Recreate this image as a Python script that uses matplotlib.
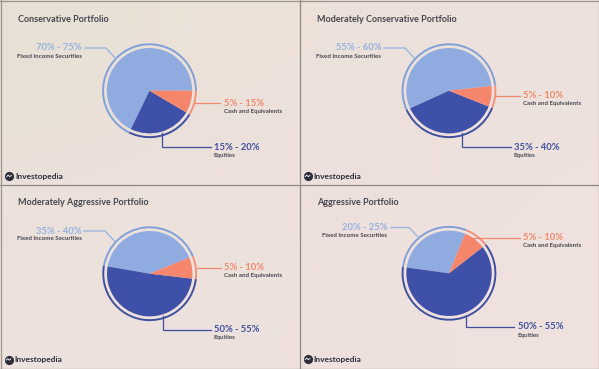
import numpy as np
import matplotlib
matplotlib.use("Agg")
import matplotlib.pyplot as plt

plt.rcParams["font.family"] = ["Lato", "DejaVu Sans"]

W, H = 599, 369

# 数据
titles = ["Conservative Portfolio", "Moderately Conservative Portfolio",
          "Moderately Aggressive Portfolio", "Aggressive Portfolio"]
slice_names = ["Fixed Income Securities", "Equities", "Cash and Equivalents"]
fixed_share = [67.8, 55.0, 41.1, 29.0]
equity_share = [23.7, 37.2, 50.9, 62.7]
cash_share = [8.5, 7.8, 8.0, 8.3]
start_angles = [0, 6.4, 22.2, 67.8]
fixed_labels = ["70% - 75%", "55% - 60%", "35% - 40%", "20% - 25%"]
equity_labels = ["15% - 20%", "35% - 40%", "50% - 55%", "50% - 55%"]
cash_labels = ["5% - 15%", "5% - 10%", "5% - 10%", "5% - 10%"]

colors = ["#8fabe0", "#3f50a8", "#f5866c"]
ring_colors = ["#7f9fd8", "#3f4f9f", "#f3907a"]
text_colors = ["#94b2e2", "#3f4e9e", "#f0886c"]
dark = "#45474f"

# 每个面板的位置（像素）
origins = [(0, 0), (300, 0), (0, 185), (300, 185)]
centers = [(149.5, 90.7), (449, 90.7), (149.7, 273.7), (449, 273.3)]
title_pos = [(18, 20), (17, 20), (18, 17.5), (17, 17.5)]
logo_pos = [(9, 176), (7.5, 176), (8.5, 174.5), (7.5, 174)]
fixed_text = [(82, 48, 56), (81, 48, 56), (82, 46, 54), (87, 42.5, 50.5)]
cash_text = [(224, 103, 111), (223, 96, 104), (224, 82.5, 91), (223, 52.5, 60.5)]
equity_text = [(214, 147, 155), (213.5, 147, 155), (214, 145, 153), (218, 141.5, 150)]
fixed_lines = [[(85, 48), (106, 48), (116, 59)], [(84, 48), (105, 48), (115, 59)],
               [(84, 46), (105, 46), (115, 56.5)], [(91, 42.5), (109, 42.5), (119, 53)]]
cash_lines = [[(195, 103), (220, 103)], [(196, 96), (220, 96)],
              [(197, 82.5), (221, 82.5)], [(173, 52.5), (220, 52.5)]]
equity_lines = [[(162, 133), (162, 147), (211, 147)], [(162, 133), (162, 147), (211, 147)],
                [(162.5, 131), (162.5, 145), (211, 145)], [(165.5, 131), (165.5, 141.5), (214, 141.5)]]

fig = plt.figure(figsize=(W / 100, H / 100), dpi=100)

# 背景渐变
bg = fig.add_axes([0, 0, 1, 1], zorder=0)
bg.axis("off")
grad = np.array([[[232, 224, 213], [236, 226, 217], [236, 224, 218], [238, 226, 222]],
                 [[235, 224, 218], [238, 225, 221], [238, 224, 221], [238, 226, 222]],
                 [[238, 226, 222], [238, 226, 221], [238, 225, 221], [239, 226, 223]]], dtype=float) / 255
bg.imshow(grad, extent=(0, W, H, 0), aspect="auto", interpolation="bicubic")

# 饼图
for i in range(4):
    cx, cy = centers[i]
    half = 42.7 * 1.25
    ax = fig.add_axes([(cx - half) / W, 1 - (cy + half) / H, 2 * half / W, 2 * half / H], zorder=2)
    values = [fixed_share[i], equity_share[i], cash_share[i]]
    ax.pie(values, colors=colors, startangle=start_angles[i], radius=1.0)
    ax.pie(values, colors=ring_colors, startangle=start_angles[i], radius=1.11,
           wedgeprops={"width": 0.045})
    ax.set_xlim(-1.25, 1.25)
    ax.set_ylim(-1.25, 1.25)

# 文字和引线
top = fig.add_axes([0, 0, 1, 1], zorder=3)
top.set_xlim(0, W)
top.set_ylim(H, 0)
top.axis("off")
top.patch.set_alpha(0)

top.plot([0, W], [0.5, 0.5], color="#9b958b", lw=0.9)
top.plot([0, W], [H - 0.5, H - 0.5], color="#8f8a82", lw=0.9)
top.plot([0, W], [184.5, 184.5], color="#8f8a82", lw=0.9)
top.plot([0.5, 0.5], [0, H], color="#9b958b", lw=0.9)
top.plot([W - 0.5, W - 0.5], [0, H], color="#9b958b", lw=0.9)
top.plot([299.5, 299.5], [0, H], color="#8f8a82", lw=0.9)

for i in range(4):
    ox, oy = origins[i]
    tx, ty = title_pos[i]
    top.text(ox + tx, oy + ty, titles[i], fontsize=6.5, fontweight="bold", color=dark, va="center")

    for pts, c in zip([fixed_lines[i], equity_lines[i], cash_lines[i]], text_colors):
        xs = [ox + p[0] for p in pts]
        ys = [oy + p[1] for p in pts]
        top.plot(xs, ys, color=c, lw=0.9, solid_joinstyle="miter")

    x, y1, y2 = fixed_text[i]
    top.text(ox + x, oy + y1, fixed_labels[i], fontsize=6.8, fontweight="bold", color=text_colors[0], ha="right", va="center")
    top.text(ox + x, oy + y2, slice_names[0], fontsize=4.4, fontweight="bold", color=dark, ha="right", va="center")
    x, y1, y2 = equity_text[i]
    top.text(ox + x, oy + y1, equity_labels[i], fontsize=6.8, fontweight="bold", color=text_colors[1], va="center")
    top.text(ox + x, oy + y2, slice_names[1], fontsize=4.4, fontweight="bold", color=dark, va="center")
    x, y1, y2 = cash_text[i]
    top.text(ox + x, oy + y1, cash_labels[i], fontsize=6.8, fontweight="bold", color=text_colors[2], va="center")
    top.text(ox + x, oy + y2, slice_names[2], fontsize=4.4, fontweight="bold", color=dark, va="center")

    # logo
    lx, ly = logo_pos[i]
    top.plot([ox + lx], [oy + ly], "o", ms=6.6, color="#2b2d3a", mew=0)
    top.plot([ox + lx - 2.4, ox + lx - 0.8, ox + lx + 0.8, ox + lx + 2.4],
             [oy + ly + 0.6, oy + ly - 0.9, oy + ly + 0.7, oy + ly - 0.7], color="white", lw=0.6)
    top.text(ox + lx + 6, oy + ly + 0.3, "Investopedia", fontsize=6.0, fontweight="bold", color="#2b2d3a", va="center")

fig.savefig("out.png", dpi=100)
